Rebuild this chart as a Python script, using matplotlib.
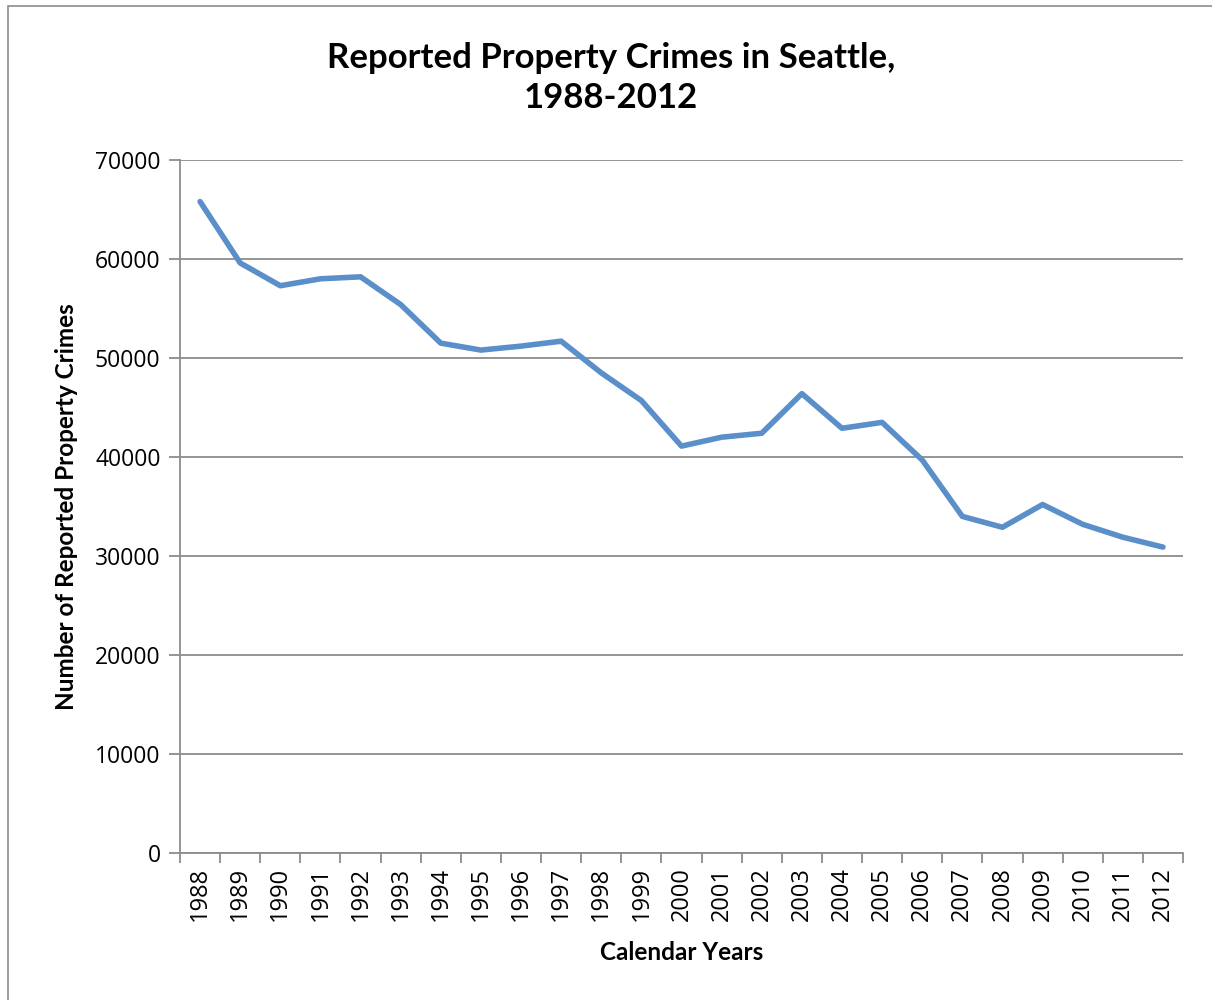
import matplotlib.pyplot as plt
from matplotlib.patches import Rectangle

years = [str(y) for y in range(1988, 2013)]
crimes = [65800, 59600, 57300, 58000, 58200, 55400, 51500, 50800, 51200, 51700,
          48500, 45700, 41100, 42000, 42400, 46400, 42900, 43500, 39700, 34000,
          32900, 35200, 33200, 31900, 30900]
yticks = [0, 10000, 20000, 30000, 40000, 50000, 60000, 70000]

grid_col = "#8c8c8c"
line_col = "#5b8fc9"

fig = plt.figure(figsize=(12.12, 10), dpi=100)
ax = fig.add_axes([180 / 1212, 147 / 1000, 1003 / 1212, 693 / 1000])

# outer chart border
fig.patches.append(Rectangle((8 / 1212, -0.01), 1.2, 1.004,
                             transform=fig.transFigure, fill=False,
                             edgecolor="#8c8c8c", linewidth=1.2))

x = list(range(len(years)))
ax.plot(x, crimes, color=line_col, linewidth=4, solid_joinstyle="round",
        solid_capstyle="round", zorder=3)

ax.set_xlim(-0.5, len(years) - 0.5)
ax.set_ylim(0, 70000)
ax.set_yticks(yticks)
ax.set_yticklabels([str(v) for v in yticks], fontsize=16.5, family="Open Sans")
ax.yaxis.grid(True, color=grid_col, linewidth=1.3)
ax.set_axisbelow(True)

ax.set_xticks(x)
ax.set_xticklabels(years, rotation=90, fontsize=17, family="Open Sans")
ax.set_xticks([i - 0.5 for i in range(len(years) + 1)], minor=True)
ax.tick_params(axis="x", which="major", length=0, pad=10)
ax.tick_params(axis="x", which="minor", length=7, width=1.3, color=grid_col)
ax.tick_params(axis="y", length=8, width=1.3, color=grid_col, pad=6)

for side in ["top", "right"]:
    ax.spines[side].set_visible(False)
for side in ["left", "bottom"]:
    ax.spines[side].set_color(grid_col)
    ax.spines[side].set_linewidth(1.3)

ax.set_xlabel("Calendar Years", fontsize=17.5, fontweight="bold", family="Lato", labelpad=14)
ax.set_ylabel("Number of Reported Property Crimes", fontsize=17.5, fontweight="bold",
              family="Lato", labelpad=12)
fig.text(611 / 1212, 1 - 78 / 1000, "Reported Property Crimes in Seattle,\n1988-2012",
         ha="center", va="center", fontsize=25, fontweight="bold", family="Lato",
         linespacing=1.3)

fig.savefig("out.png", dpi=100)
